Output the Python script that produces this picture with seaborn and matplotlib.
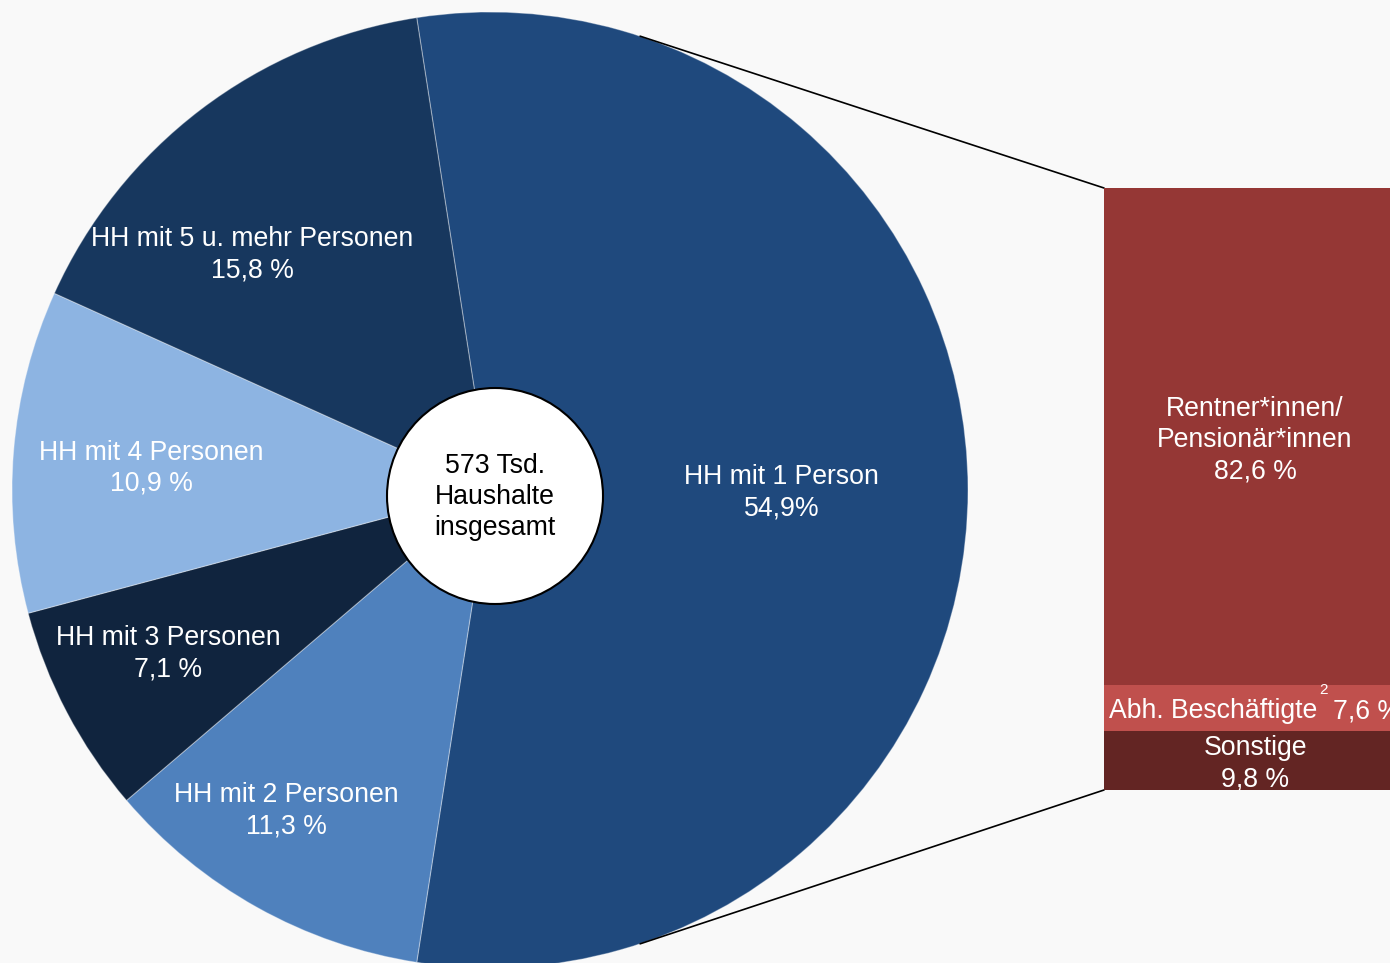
import numpy as np
import matplotlib
matplotlib.use("Agg")
import matplotlib.pyplot as plt
from matplotlib.patches import Circle
import seaborn as sns

# Data
hh_labels = ["HH mit 1 Person", "HH mit 2 Personen", "HH mit 3 Personen",
             "HH mit 4 Personen", "HH mit 5 u. mehr Personen"]
hh_shares = [54.9, 11.3, 7.1, 10.9, 15.8]
hh_texts = ["54,9%", "11,3 %", "7,1 %", "10,9 %", "15,8 %"]
hh_colors = ["#1F497D", "#4F81BD", "#10243E", "#8DB4E2", "#17375E"]

one_labels = ["Rentner*innen/\nPensionär*innen", "Abh. Beschäftigte", "Sonstige"]
one_shares = [82.6, 7.6, 9.8]
one_texts = ["82,6 %", "7,6 %", "9,8 %"]
one_colors = ["#953735", "#C0504D", "#632523"]

center_text = "573 Tsd.\nHaushalte\ninsgesamt"

sns.set_theme(style="white")
plt.rcParams['font.family'] = ['Liberation Sans', 'DejaVu Sans']
bg = "#F9F9F9"
fs = 19.2
ls = 1.27

fig = plt.figure(figsize=(13.9, 9.63), dpi=100, facecolor=bg)
ax = fig.add_axes([0, 0, 1, 1])
ax.set_facecolor(bg)

# pie geometry (pixel coordinates, y up); first wedge centred on the right
cx, cy, r = 490, 473, 478
wedges, _ = ax.pie(hh_shares, colors=hh_colors, startangle=hh_shares[0] * 3.6 / 2,
                   counterclock=False, center=(cx, cy), radius=r,
                   wedgeprops=dict(edgecolor=(1, 1, 1, 0.35), linewidth=0.8))

# label radii (fraction of radius) and angle nudges for each wedge
label_rad = [0.61, 0.795, 0.755, 0.71, 0.70]
label_shift = [-0.6, -3.3, -0.7, 1, 8]
for w, lab, txt, lr, sh in zip(wedges, hh_labels, hh_texts, label_rad, label_shift):
    mid = np.deg2rad((w.theta1 + w.theta2) / 2 + sh)
    ax.text(cx + lr * r * np.cos(mid), cy + lr * r * np.sin(mid), lab + "\n" + txt,
            ha="center", va="center", color="white", fontsize=fs, linespacing=ls)

# hole in the middle
ax.add_patch(Circle((495, 467), 108, facecolor="white", edgecolor="black",
                    linewidth=1.5, zorder=5))
ax.text(495, 466, center_text, ha="center", va="center", fontsize=fs,
        color="black", linespacing=ls, zorder=6)

# stacked bar for one-person households
bar_x, bar_w = 1255, 302
bar_bottom, bar_h = 173, 602
scale = bar_h / sum(one_shares)
tops = bar_bottom + bar_h - np.cumsum([0] + one_shares[:-1]) * scale
for lab, v, c, top in zip(one_labels, one_shares, one_colors, tops):
    ax.bar(bar_x, v * scale, width=bar_w, bottom=top - v * scale, color=c,
           linewidth=0, zorder=3)

left = bar_x - bar_w / 2
# top segment label
ax.text(bar_x, tops[0] - 252, one_labels[0] + "\n" + one_texts[0], ha="center",
        va="center", color="white", fontsize=fs, linespacing=ls, zorder=4)
# middle segment label with superscript
mid_y = tops[1] - one_shares[1] * scale / 2
ax.text(left + 5, mid_y - 3, one_labels[1], ha="left", va="center", color="white",
        fontsize=fs, zorder=4)
ax.text(left + 220, mid_y + 18, "2", ha="center", va="center", color="white",
        fontsize=11, zorder=4)
ax.text(left + 229, mid_y - 3, one_texts[1], ha="left", va="center", color="white",
        fontsize=fs, zorder=4)
# bottom segment label
ax.text(bar_x, tops[2] - one_shares[2] * scale / 2 - 3, one_labels[2] + "\n" + one_texts[2],
        ha="center", va="center", color="white", fontsize=fs, linespacing=ls, zorder=4)

# connector lines from the pie edge to the bar corners
ang = np.deg2rad(71.7)
ax.plot([cx + r * np.cos(ang), left], [cy + r * np.sin(ang), bar_bottom + bar_h],
        color="black", linewidth=1.2, zorder=2)
ax.plot([cx + r * np.cos(-ang), left], [cy + r * np.sin(-ang), bar_bottom],
        color="black", linewidth=1.2, zorder=2)

ax.set_xlim(0, 1390)
ax.set_ylim(0, 963)
ax.set_aspect("auto")
ax.axis("off")

fig.savefig("out.png", dpi=100, facecolor=bg)
